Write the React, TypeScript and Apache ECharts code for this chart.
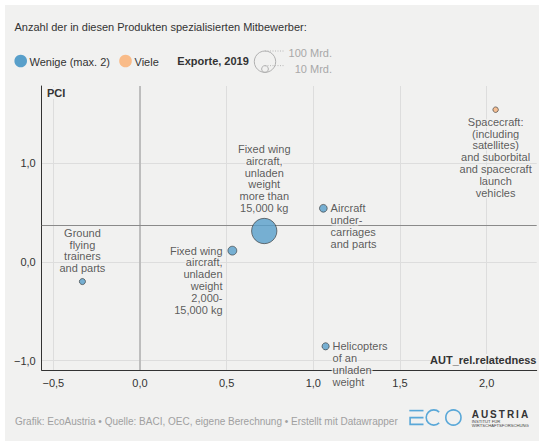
import React, { useEffect, useRef } from "react";
import * as echarts from "echarts";

// ---------- data ----------
const products = [
  "Ground\nflying\ntrainers\nand parts",
  "Fixed wing\naircraft,\nunladen\nweight\n2,000-\n15,000 kg",
  "Fixed wing\naircraft,\nunladen\nweight\nmore than\n15,000 kg",
  "Aircraft\nunder-\ncarriages\nand parts",
  "Helicopters\nof an\nunladen\nweight",
  "Spacecraft:\n(including\nsatellites)\nand suborbital\nand spacecraft\nlaunch\nvehicles",
];
const relatedness = [-0.332, 0.533, 0.717, 1.058, 1.071, 2.052];
const pci = [-0.198, 0.115, 0.314, 0.544, -0.854, 1.543];
const exportsBn = [8, 17, 140, 13, 11, 6.5];
const competitors = ["Wenige", "Wenige", "Wenige", "Wenige", "Wenige", "Viele"];
const labelSides = ["top", "left", "top", "right", "right", "bottom"];
const pciReference = 0.37;
const sizeLegendValues = [100, 10];
const sizeLegendLabels = ["100 Mrd.", "10 Mrd."];

// ---------- style ----------
const FONT = "'Liberation Sans', Arial, Helvetica, sans-serif";
const BG = "#f1f1f0";
const BLUE = "#589fca";
const ORANGE = "#f6b37d";
const TEXT = "#333333";
const R100 = 10.7; // radius of a 100 Mrd. bubble
const radiusFor = (v: number) => R100 * Math.sqrt(v / 100);

function fmt(v: number) {
  const s = Math.abs(v).toFixed(1).replace(".", ",");
  return v < -1e-9 ? "\u2212" + s : s;
}

function labelFor(side: string) {
  const common: any = {
    show: true,
    fontSize: 11,
    lineHeight: 11.8,
    color: TEXT,
    fontFamily: FONT,
    textBorderColor: BG,
    textBorderWidth: 3,
    formatter: (p: any) => p.name,
  };
  if (side === "top") return { ...common, position: "top", distance: 4, align: "center" };
  if (side === "bottom") return { ...common, position: "bottom", distance: 3, align: "center" };
  if (side === "left")
    return { ...common, position: "left", distance: 5, align: "right", verticalAlign: "top", offset: [0, -5.9] };
  return { ...common, position: "right", distance: 3, align: "left", verticalAlign: "top", offset: [0, -5.9] };
}

export default function App() {
  const ref = useRef<HTMLDivElement>(null);

  useEffect(() => {
    if (!ref.current) return;
    const chart = echarts.init(ref.current, undefined, { renderer: "svg" });

    const data = products.map((name, i) => ({
      name,
      value: [relatedness[i], pci[i], exportsBn[i]],
      symbolSize: 2 * radiusFor(exportsBn[i]),
      itemStyle: {
        color: competitors[i] === "Viele" ? ORANGE : BLUE,
        borderColor: "#333",
        borderWidth: 0.8,
      },
      label: labelFor(labelSides[i]),
    }));

    const txt = (x: number, y: number, text: string, opts: any = {}) => ({
      type: "text",
      x,
      y,
      z: opts.z ?? 0,
      silent: true,
      style: {
        text,
        fill: opts.fill || TEXT,
        font: `${opts.weight || "normal"} ${opts.size || 11}px ${FONT}`,
        textAlign: opts.align || "left",
        textVerticalAlign: "middle",
      },
    });

    // AUSTRIA with letter spacing
    const austria = "AUSTRIA".split("");
    const letterW: Record<string, number> = { A: 7.2, U: 7.2, S: 6.7, T: 6.1, R: 7.2, I: 2.8 };
    let ax = 471.7;
    const austriaEls = austria.map((ch) => {
      const el = txt(ax, 414, ch, { weight: "bold", size: 10 });
      ax += letterW[ch] + 2.0;
      return el;
    });

    const logoBlue = "#5aa8d8";

    const graphic: any[] = [
      { type: "rect", z: -100, silent: true, shape: { x: 5, y: 5, width: 534, height: 436 }, style: { fill: BG } },
      txt(14.5, 27, "Anzahl der in diesen Produkten spezialisierten Mitbewerber:"),
      // color legend
      { type: "circle", shape: { cx: 20.7, cy: 61, r: 6.3 }, style: { fill: BLUE } },
      txt(29.5, 61.5, "Wenige (max. 2)"),
      { type: "circle", shape: { cx: 125.5, cy: 61, r: 6.3 }, style: { fill: "#f9bb88" } },
      txt(134.5, 61.5, "Viele"),
      txt(177.3, 61, "Exporte, 2019", { weight: "bold" }),
      // size legend
      {
        type: "circle",
        shape: { cx: 265, cy: 72.4 - radiusFor(sizeLegendValues[0]), r: radiusFor(sizeLegendValues[0]) },
        style: { fill: "none", stroke: "#b0b0b0", lineWidth: 1 },
      },
      {
        type: "circle",
        shape: { cx: 265, cy: 72.4 - radiusFor(sizeLegendValues[1]), r: radiusFor(sizeLegendValues[1]) },
        style: { fill: "none", stroke: "#b0b0b0", lineWidth: 1 },
      },
      {
        type: "line",
        shape: { x1: 265, y1: 72.4 - 2 * radiusFor(sizeLegendValues[0]), x2: 285, y2: 72.4 - 2 * radiusFor(sizeLegendValues[0]) },
        style: { stroke: "#b8b8b8", lineWidth: 1, lineDash: [1, 1.5] },
      },
      {
        type: "line",
        shape: { x1: 265, y1: 72.4 - 2 * radiusFor(sizeLegendValues[1]), x2: 285, y2: 72.4 - 2 * radiusFor(sizeLegendValues[1]) },
        style: { stroke: "#b8b8b8", lineWidth: 1, lineDash: [1, 1.5] },
      },
      txt(332, 52.5, sizeLegendLabels[0], { fill: "#a8a8a8", align: "right" }),
      txt(332, 68.5, sizeLegendLabels[1], { fill: "#a8a8a8", align: "right" }),
      // axis names with background patches (halo over grid lines)
      { type: "rect", z: 50, silent: true, shape: { x: 45.5, y: 87, width: 22, height: 12 }, style: { fill: BG } },
      txt(47, 93, "PCI", { weight: "bold", z: 51 }),
      { type: "rect", z: 50, silent: true, shape: { x: 433, y: 354, width: 104, height: 11 }, style: { fill: BG } },
      txt(536.5, 359.5, "AUT_rel.relatedness", { weight: "bold", align: "right", z: 51 }),
      // footer
      txt(15, 421, "Grafik: EcoAustria \u2022 Quelle: BACI, OEC, eigene Berechnung \u2022 Erstellt mit Datawrapper", {
        fill: "#a0a0a0",
        size: 10,
      }),
      // logo ECO
      { type: "line", shape: { x1: 409.3, y1: 410.6, x2: 423.5, y2: 410.6 }, style: { stroke: logoBlue, lineWidth: 1.6 } },
      {
        type: "polyline",
        shape: { points: [[423.5, 417.6], [410.1, 417.6], [410.1, 424.4], [423.5, 424.4]] },
        style: { stroke: logoBlue, lineWidth: 1.6, fill: "none" },
      },
      {
        type: "arc",
        shape: { cx: 433.8, cy: 417.5, r: 7.6, startAngle: Math.PI * 0.25, endAngle: Math.PI * 1.75, clockwise: true },
        style: { stroke: logoBlue, lineWidth: 1.6, fill: "none" },
      },
      { type: "circle", shape: { cx: 453.4, cy: 417.5, r: 7.6 }, style: { stroke: logoBlue, lineWidth: 1.6, fill: "none" } },
      ...austriaEls,
      txt(471.7, 421.8, "INSTITUT F\u00dcR", { size: 4.2, fill: "#444" }),
      txt(471.7, 425.9, "WIRTSCHAFTSFORSCHUNG", { size: 4.2, fill: "#444" }),
    ];

    chart.setOption({
      animation: false,
      textStyle: { fontFamily: FONT },
      grid: { left: 41.7, right: 2.3, top: 86, bottom: 71, containLabel: false },
      xAxis: {
        type: "value",
        min: -0.567,
        max: 2.289,
        splitNumber: 6,
        minInterval: 0.5,
        maxInterval: 0.5,
        axisLine: { show: true, onZero: false, lineStyle: { color: "#333", width: 1 } },
        axisTick: { show: false },
        axisLabel: {
          color: TEXT,
          fontSize: 11,
          fontFamily: FONT,
          margin: 7,
          showMinLabel: false,
          showMaxLabel: false,
          formatter: (v: number) => fmt(v),
        },
        splitLine: { show: true, showMinLine: false, showMaxLine: false, lineStyle: { color: "#dddddd", width: 1 } },
      },
      yAxis: {
        type: "value",
        min: -1.094,
        max: 1.783,
        splitNumber: 3,
        minInterval: 1,
        maxInterval: 1,
        axisLine: { show: true, onZero: false, lineStyle: { color: "#333", width: 1 } },
        axisTick: { show: false },
        axisLabel: {
          color: TEXT,
          fontSize: 11,
          fontFamily: FONT,
          margin: 6,
          showMinLabel: false,
          showMaxLabel: false,
          formatter: (v: number) => fmt(v),
        },
        splitLine: { show: true, showMinLine: false, showMaxLine: false, lineStyle: { color: "#dddddd", width: 1 } },
      },
      graphic,
      series: [
        {
          type: "scatter",
          data,
          z: 3,
          markLine: {
            silent: true,
            symbol: ["none", "none"],
            label: { show: false },
            z: 1,
            data: [
              { xAxis: 0, lineStyle: { color: "#b9b9b9", width: 1.8, type: "solid" } },
              { yAxis: pciReference, lineStyle: { color: "#8a8a8a", width: 1, type: "solid" } },
            ],
          },
        },
      ],
    });

    return () => chart.dispose();
  }, []);

  return (
    <div
      ref={ref}
      style={{ position: "fixed", left: 0, top: 0, width: 539, height: 441, background: "#ffffff" }}
    />
  );
}
